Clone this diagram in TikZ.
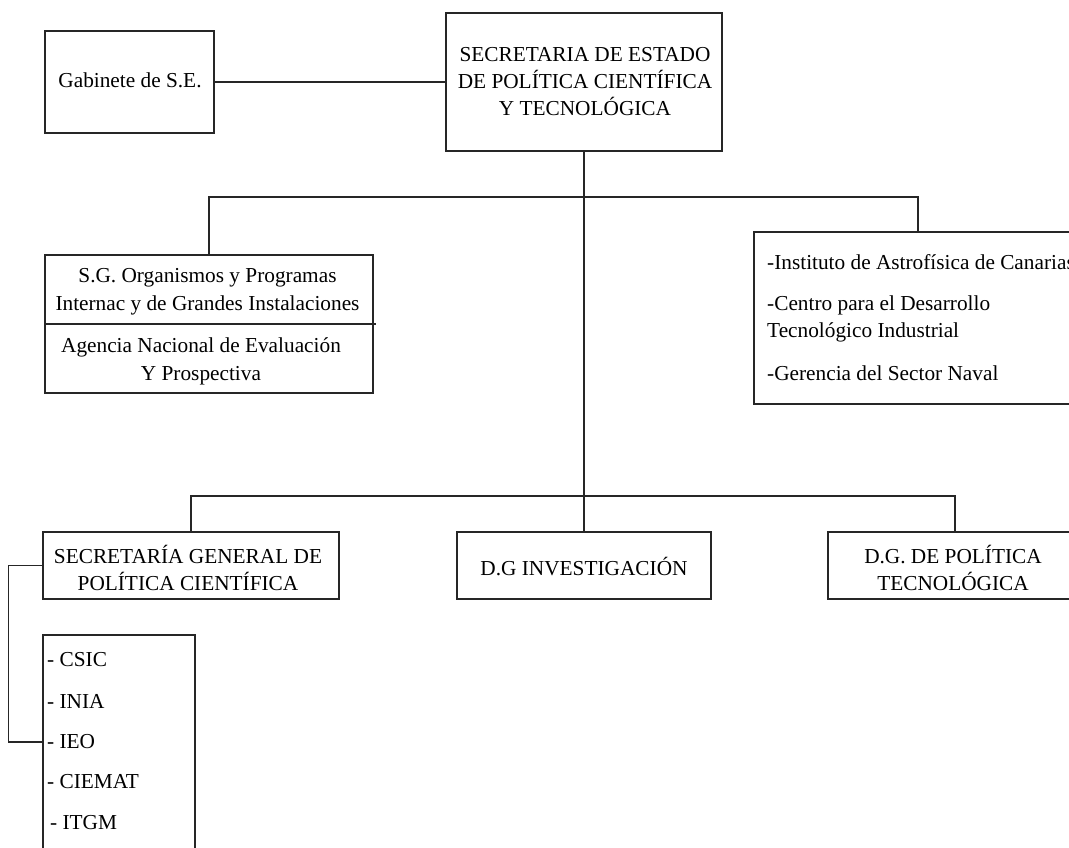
\documentclass[tikz,border=0pt]{standalone}
\usepackage{fontspec}
\setmainfont{Liberation Serif}
\begin{document}
\begin{tikzpicture}[x=1pt,y=-1pt,
  box/.style={draw=black!85, line width=1.3pt, inner sep=0pt},
  lbl/.style={inner sep=0pt, font=\fontsize{21.3}{27}\selectfont, align=center},
  lbll/.style={inner sep=0pt, font=\fontsize{21.3}{27}\selectfont, align=left, anchor=west},
  conn/.style={draw=black!85, line width=1.3pt}]
\useasboundingbox (0,0) rectangle (1069,847);
\clip (0,0) rectangle (1069,847);
\fill[white] (0,0) rectangle (1069,847);

% boxes
\node[box, minimum width=169pt, minimum height=102pt] (gab) at (129.5,82) {};
\node[lbl] (gabt) at (130,80) {Gabinete de S.E.};

\node[box, minimum width=276pt, minimum height=138pt] (top) at (584,82) {};
\node[lbl] (topt) at (585,82) {SECRETARIA DE ESTADO\\DE POLÍTICA CIENTÍFICA\\Y TECNOLÓGICA};

\node[box, minimum width=328pt, minimum height=138pt] (sgo) at (209,324) {};
\node[lbl, font=\fontsize{21.3}{28}\selectfont] (sgoa) at (207.5,292) {S.G. Organismos y Programas\\Internac y de Grandes Instalaciones};
\node[lbl, font=\fontsize{21.3}{28}\selectfont] (sgob) at (201,361) {Agencia Nacional de Evaluación\\Y Prospectiva};

\node[box, minimum width=328pt, minimum height=172pt] (rgt) at (918,318) {};
\node[lbll] (ins) at (767,262) {-Instituto de Astrofísica de Canarias};
\node[lbll] (cen) at (767,318.5) {-Centro para el Desarrollo\\Tecnológico Industrial};
\node[lbll] (ger) at (767,373) {-Gerencia del Sector Naval};

\node[box, minimum width=296pt, minimum height=67pt] (sgg) at (191,565.5) {};
\node[lbl] (sggt) at (188,568) {SECRETARÍA GENERAL DE\\POLÍTICA CIENTÍFICA};

\node[box, minimum width=254pt, minimum height=67pt] (inv) at (584,565.5) {};
\node[lbl] (invt) at (584,567) {D.G INVESTIGACIÓN};

\node[box, minimum width=254pt, minimum height=67pt] (pol) at (955,565.5) {};
\node[lbl] (polt) at (953,568) {D.G. DE POLÍTICA\\TECNOLÓGICA};

\node[box, minimum width=152pt, minimum height=225pt] (lst) at (119,747.5) {};
\node[lbll] (csic) at (47,660) {- CSIC};
\node[lbll] (inia) at (47,701) {- INIA};
\node[lbll] (ieo) at (47,742) {- IEO};
\node[lbll] (ciemat) at (47,782) {- CIEMAT};
\node[lbll] (itgm) at (50,823) {- ITGM};

% connectors
\coordinate (bar1) at (584,197);
\coordinate (bar2) at (584,496);
\draw[conn] (gab.east) -- (top.west);
\draw[conn] (top.south) -- (inv.north);
\draw[conn] (sgo.north) -- (sgo.north |- bar1) -- (rgt.north |- bar1) -- (rgt.north);
\draw[conn] (sgg.north) -- (sgg.north |- bar2) -- (pol.north |- bar2) -- (pol.north);
\draw[conn] (sgo.west) -- ++(332,0);
\draw[conn] (sgg.west) -- ++(-34,0) |- (lst.west |- ieo);
\end{tikzpicture}
\end{document}
